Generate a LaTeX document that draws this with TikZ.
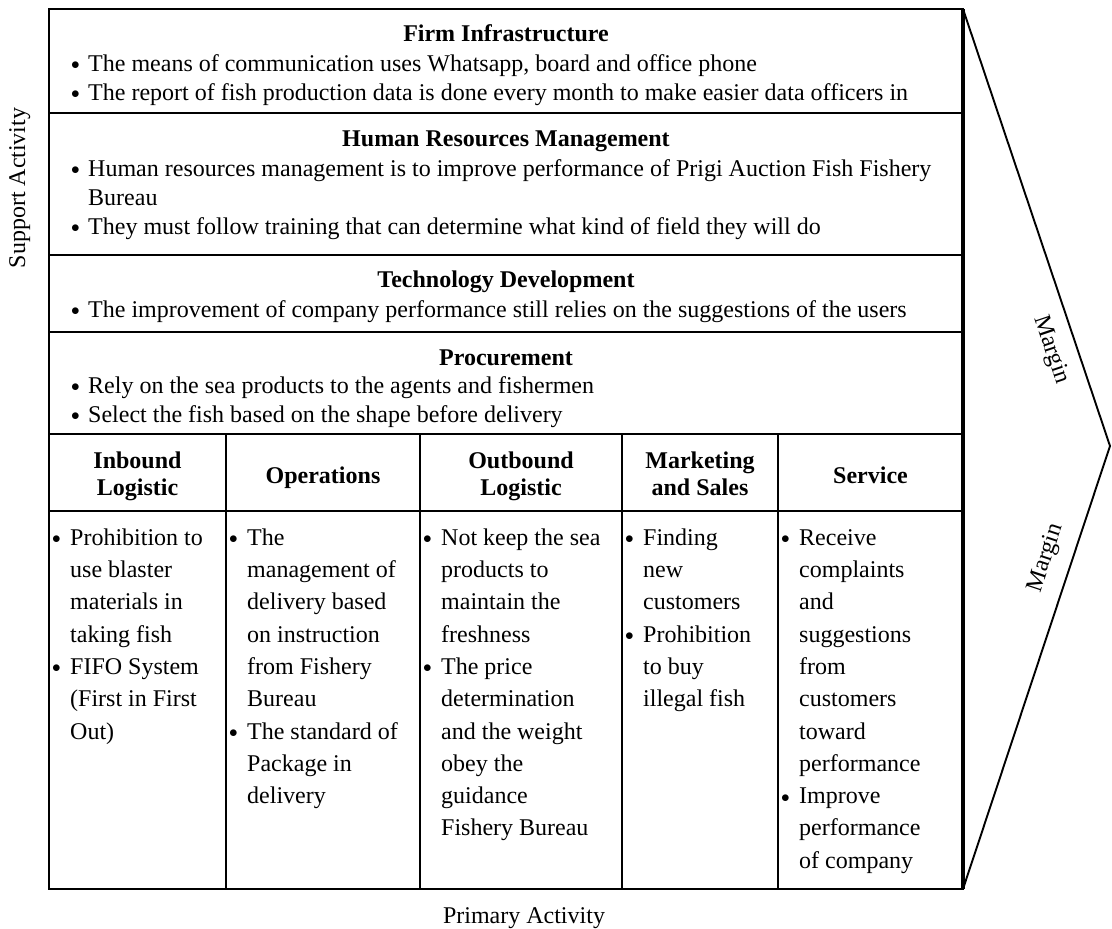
\documentclass[tikz,border=0pt]{standalone}
\usepackage{fontspec}
\setmainfont{Liberation Serif}
\newcommand\fs{\rule{0pt}{20pt}}
\newcommand\bl[1]{\makebox[#1][l]{\raisebox{1.5pt}{$\scriptstyle\bullet$}}}
\newcommand\bs{\bl{17pt}}
\newcommand\is{\hspace*{17pt}}
\newcommand\bc{\bl{18pt}}
\newcommand\ic{\hspace*{18pt}}
\tikzset{
  grid/.style={line width=1.9pt, line cap=rect},
  edge/.style={line width=3.2pt},
  chev/.style={line width=1.9pt, line join=miter},
  srow/.style={inner sep=0pt, anchor=north west, align=left, font=\fontsize{24}{29}\selectfont},
  ccol/.style={inner sep=0pt, anchor=north west, align=left, font=\fontsize{24}{32.3}\selectfont},
  head/.style={inner sep=0pt, anchor=north, align=center, font=\fontsize{24}{27}\selectfont\bfseries},
  lbl/.style={inner sep=0pt, font=\fontsize{24}{29}\selectfont},
}
\begin{document}
\begin{tikzpicture}[x=1pt,y=-1pt]
\useasboundingbox (0,0) rectangle (1112,929);
% frame
\coordinate (TL) at (49,9);
\coordinate (TR) at (963,9);
\coordinate (BL) at (49,889);
\coordinate (BR) at (963,889);
\coordinate (tip) at (1110,446);
\draw[grid] (TL) rectangle (BR);
\draw[grid] (49,113) -- (963,113);
\draw[grid] (49,255) -- (963,255);
\draw[grid] (49,332) -- (963,332);
\draw[grid] (49,434) -- (963,434);
\draw[grid] (49,511) -- (963,511);
\draw[grid] (226,434) -- (226,889);
\draw[grid] (420,434) -- (420,889);
\draw[grid] (622,434) -- (622,889);
\draw[grid] (778,434) -- (778,889);
\draw[edge] (TR) -- (BR);
\draw[chev] (TR) -- (tip) -- (BR);
% support activities
\node[head] (firmh) at (506,21) {\fs Firm Infrastructure};
\node[srow] (firmt) at (71,51) {\fs\bs The means of communication uses Whatsapp, board and office phone\\
\bs The report of fish production data is done every month to make easier data officers in};
\node[head] (hrmh) at (506,126) {\fs Human Resources Management};
\node[srow] (hrmt) at (71,156) {\fs\bs Human resources management is to improve performance of Prigi Auction Fish Fishery\\
\is Bureau\\
\bs They must follow training that can determine what kind of field they will do};
\node[head] (techh) at (506,267) {\fs Technology Development};
\node[srow] (techt) at (71,297) {\fs\bs The improvement of company performance still relies on the suggestions of the users};
\node[head] (proch) at (506,345) {\fs Procurement};
\node[srow] (proct) at (71,373) {\fs\bs Rely on the sea products to the agents and fishermen\\
\bs Select the fish based on the shape before delivery};
% primary headers
\node[head] (h1) at (137.5,448) {\fs Inbound\\Logistic};
\node[head] (h2) at (323,463) {\fs Operations};
\node[head] (h3) at (521,448) {\fs Outbound\\Logistic};
\node[head] (h4) at (700,448) {\fs Marketing\\and Sales};
\node[head] (h5) at (870.5,463) {\fs Service};
% primary contents
\node[ccol] (c1) at (52,525) {\fs\bc Prohibition to\\ \ic use blaster\\ \ic materials in\\ \ic taking fish\\
\bc FIFO System\\ \ic (First in First\\ \ic Out)};
\node[ccol] (c2) at (229,525) {\fs\bc The\\ \ic management of\\ \ic delivery based\\ \ic on instruction\\ \ic from Fishery\\ \ic Bureau\\
\bc The standard of\\ \ic Package in\\ \ic delivery};
\node[ccol] (c3) at (423,525) {\fs\bc Not keep the sea\\ \ic products to\\ \ic maintain the\\ \ic freshness\\
\bc The price\\ \ic determination\\ \ic and the weight\\ \ic obey the\\ \ic guidance\\ \ic Fishery Bureau};
\node[ccol] (c4) at (625,525) {\fs\bc Finding\\ \ic new\\ \ic customers\\
\bc Prohibition\\ \ic to buy\\ \ic illegal fish};
\node[ccol] (c5) at (781,525) {\fs\bc Receive\\ \ic complaints\\ \ic and\\ \ic suggestions\\ \ic from\\ \ic customers\\ \ic toward\\ \ic performance\\
\bc Improve\\ \ic performance\\ \ic of company};
% side labels
\node[lbl, rotate=90, anchor=base] (sup) at (25,188) {Support Activity};
\node[lbl, anchor=base] (pri) at (524,923) {Primary Activity};
\node[lbl, rotate=-71.4] (m1) at (1051,350) {Margin};
\node[lbl, rotate=71.6] (m2) at (1046,558) {Margin};
\end{tikzpicture}
\end{document}
